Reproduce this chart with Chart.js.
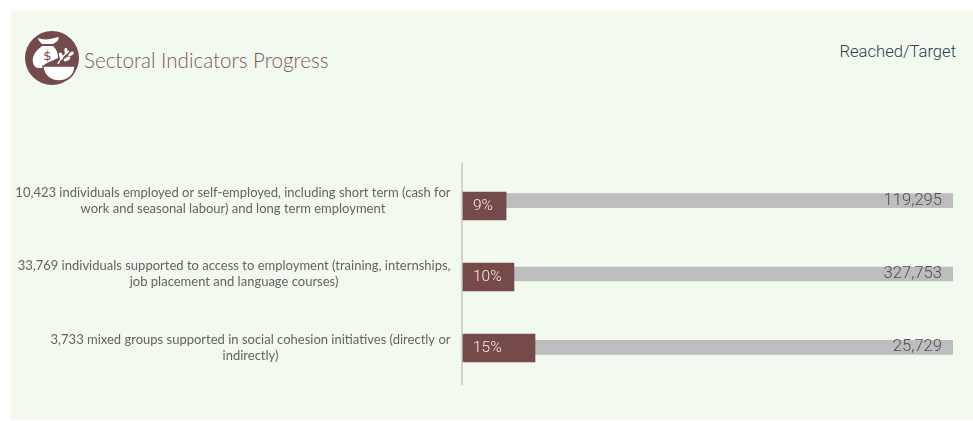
<!DOCTYPE html>
<html>
<head>
<meta charset="utf-8">
<title>Sectoral Indicators Progress</title>
<script src="https://cdn.jsdelivr.net/npm/chart.js@4"></script>
<style>
    html, body { margin: 0; padding: 0; background: #fff; overflow: hidden; }
    #wrap { position: relative; width: 973px; height: 421px; }
    #panel { position: absolute; left: 11px; top: 11px; width: 962px; height: 409px; background: #f2faf0; }
    #icon { position: absolute; left: 25px; top: 31px; }
    #title { position: absolute; left: 84px; top: 48px; font: 300 20.6px Lato, sans-serif; color: #7a5a58; white-space: nowrap; }
    #unit { position: absolute; right: 17px; top: 42px; font: 300 16.6px Roboto, sans-serif; color: #2f3c4e; white-space: nowrap; }
    canvas { position: absolute; left: 0; top: 0; }
</style>
</head>
<body>
<div id="wrap">
    <div id="panel"></div>
    <svg id="icon" width="54" height="54" viewBox="0 0 54 54">
        <circle cx="27" cy="27" r="27" fill="#744a4a"/>
        <path d="M13 7 C18 9 24 9 33 6 C35 8 32 11 28 13 L17 13 C15 11 13 9 13 7 Z" fill="#fff"/>
        <path d="M17 15 L28 15 C31 18 33 21 33 27 L20 33 C19 35 19 36 19 37 L14 37 C9 37 7 32 8 27 C9 22 13 18 17 15 Z" fill="#fff"/>
        <text x="22.5" y="29" text-anchor="middle" font-family="DejaVu Sans" font-size="13" fill="#744a4a">$</text>
        <path d="M18 35 L50 35 C50 44 43 50 34 50 C25 50 18 44 18 35 Z" fill="#fff" stroke="#744a4a" stroke-width="1.5"/>
        <path d="M33 33 C35 28 39 24 44 20" stroke="#fff" stroke-width="1.5" fill="none"/>
        <ellipse cx="36" cy="25" rx="1.8" ry="3.6" fill="#fff" transform="rotate(-15 36 25)"/>
        <ellipse cx="41" cy="20" rx="1.6" ry="3.2" fill="#fff" transform="rotate(-5 41 20)"/>
        <ellipse cx="42" cy="28" rx="1.8" ry="3.6" fill="#fff" transform="rotate(60 42 28)"/>
        <ellipse cx="46" cy="23" rx="1.6" ry="3.2" fill="#fff" transform="rotate(55 46 23)"/>
    </svg>
    <div id="title">Sectoral Indicators Progress</div>
    <div id="unit">Reached/Target</div>
    <canvas id="progressChart" width="973" height="421"></canvas>
</div>
<script>
const categories = [
    ['10,423 individuals employed or self-employed, including short term (cash for', 'work and seasonal labour) and long term employment'],
    ['33,769 individuals supported to access to employment (training, internships,', 'job placement and language courses)'],
    ['3,733 mixed groups supported in social cohesion initiatives (directly or', 'indirectly)']
];
const reachedShare = [8.8, 10.4, 14.7];
const fullShare = [100, 100, 100];
const percentLabels = ['9%', '10%', '15%'];
const targetLabels = ['119,295', '327,753', '25,729'];

// draws the row labels, the percentages and the targets
const rowText = {
    id: 'rowText',
    afterDatasetsDraw: function (chart) {
        const ctx = chart.ctx;
        const y = chart.scales.y;
        const y2 = chart.scales.y2;
        const area = chart.chartArea;
        ctx.save();
        ctx.textBaseline = 'middle';

        ctx.font = '400 13px Lato, sans-serif';
        ctx.fillStyle = '#666160';
        ctx.textAlign = 'center';
        categories.forEach(function (lines, i) {
            const widest = Math.max.apply(null, lines.map(function (l) { return ctx.measureText(l).width; }));
            const cx = 450.5 - widest / 2;
            const cy = y.getPixelForValue(i);
            lines.forEach(function (line, n) {
                ctx.fillText(line, cx, cy + (n - (lines.length - 1) / 2) * 16);
            });
        });

        ctx.font = '300 15.5px Roboto, sans-serif';
        ctx.textAlign = 'left';
        ctx.fillStyle = '#f6ece4';
        percentLabels.forEach(function (text, i) {
            ctx.fillText(text, area.left + 11, y2.getPixelForValue(i));
        });

        ctx.font = '300 16.6px Roboto, sans-serif';
        ctx.textAlign = 'right';
        ctx.fillStyle = '#4f4f4f';
        targetLabels.forEach(function (text, i) {
            ctx.fillText(text, area.right - 11, y.getPixelForValue(i));
        });
        ctx.restore();
    }
};

new Chart(document.getElementById('progressChart').getContext('2d'), {
    type: 'bar',
    plugins: [rowText],
    data: {
        labels: categories,
        datasets: [
            {
                label: 'Reached',
                data: reachedShare.map(function (v, i) { return { x: v, y: i }; }),
                yAxisID: 'y2',
                backgroundColor: '#764a4a',
                barThickness: 28,
                grouped: false
            },
            {
                label: 'Target',
                data: fullShare,
                yAxisID: 'y',
                backgroundColor: '#bdbdbd',
                barThickness: 14,
                grouped: false
            }
        ]
    },
    options: {
        indexAxis: 'y',
        responsive: false,
        animation: false,
        layout: { padding: { top: 164, right: 20, bottom: 37, left: 0 } },
        plugins: { legend: { display: false }, tooltip: { enabled: false } },
        scales: {
            // min just under zero leaves the axis line clear of the bars
            x: { display: false, min: -0.2, max: 100 },
            y: {
                position: 'left',
                grid: { display: false },
                border: { display: true, color: '#d2d2d2', width: 2 },
                ticks: { display: false },
                afterFit: function (scale) { scale.width = 462; }
            },
            // the dark bars sit on slightly tighter rows than the grey ones
            y2: { type: 'linear', display: false, offset: false, reverse: true, min: -0.592, max: 2.507 }
        }
    }
});
</script>
</body>
</html>
